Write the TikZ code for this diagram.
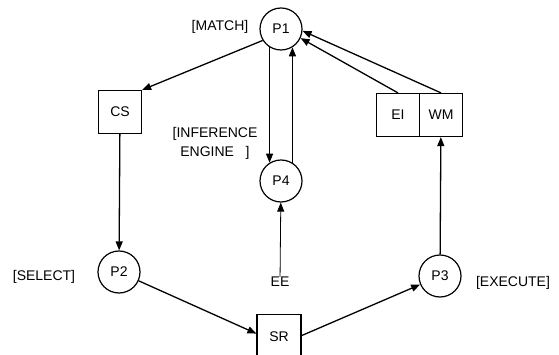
\documentclass[tikz,border=0pt]{standalone}
\usepackage{fontspec}
\setmainfont{Liberation Sans}
\usetikzlibrary{arrows.meta}
\begin{document}
\begin{tikzpicture}[x=1pt,y=-1pt,
  every node/.style={font=\fontsize{14}{16}\selectfont},
  proc/.style={draw,circle,line width=1.2pt,minimum size=42pt,inner sep=0pt},
  store/.style={draw,rectangle,line width=1.2pt,minimum size=43pt,inner sep=0pt},
  conn/.style={line width=1.3pt,-{Triangle[length=9pt,width=7pt]}},
  thin conn/.style={line width=0.8pt,-{Triangle[length=9pt,width=7pt]}},
  lbl/.style={inner sep=0pt}]
\useasboundingbox (0,0) rectangle (559,355);
\clip (0,0) rectangle (559,355);
\node[proc] (P1) at (281,29) {P1};
\node[proc] (P4) at (281,181) {P4};
\node[proc] (P2) at (119,272) {P2};
\node[proc] (P3) at (440,276) {P3};
\node[store] (CS) at (120,112) {CS};
\node[store] (EI) at (398,115) {EI};
\node[store] (WM) at (441,115) {WM};
\node[store,minimum width=44pt,minimum height=50pt,anchor=north] (SR) at (279,314) {\raisebox{5pt}{SR}};
\node[lbl] (EE) at (280,282) {EE};
\node[lbl] (lmatch) at (220,27) {[MATCH]};
\node[lbl] (lselect) at (44,277) {[SELECT]};
\node[lbl] (lexec) at (513,283) {[EXECUTE]};
\node[lbl,align=center] (linf) at (215,143) {[INFERENCE\\[3pt]ENGINE\ \ \ ]};
\draw[conn] (P1.-148) -- (CS.north east);
\draw[conn] (CS) -- (P2);
\draw[conn] (P2) -- ([yshift=6pt]SR.west);
\draw[conn] ([yshift=4pt]SR.east) -- (P3);
\draw[conn] (P3) -- (WM);
\draw[conn] (WM.north) -- (P1.-5);
\draw[conn] (EI.north) -- (P1.-25);
\draw[conn] (P1.-122) -- (P4.122);
\draw[conn] (P4.58) -- (P1.-58);
\draw[thin conn] (EE) -- (P4);
\end{tikzpicture}
\end{document}
